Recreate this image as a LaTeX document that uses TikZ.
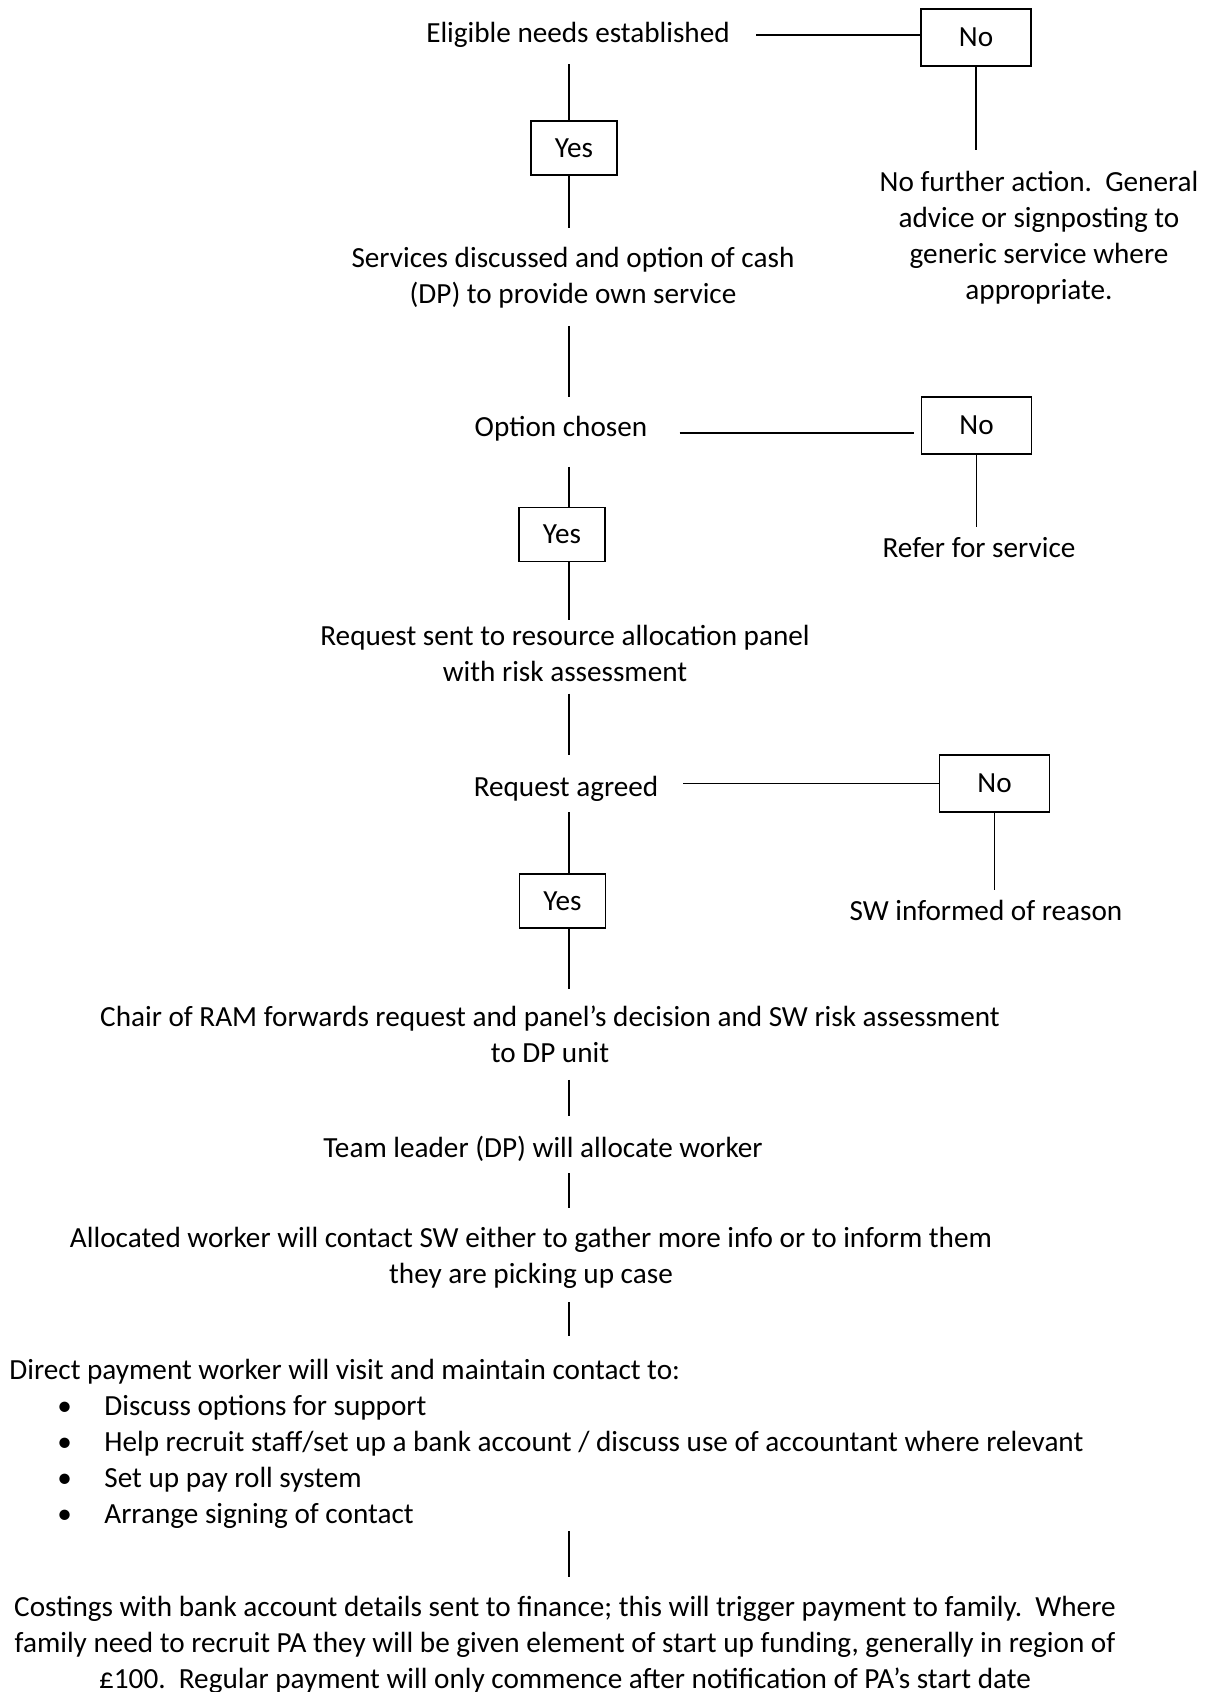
\documentclass[tikz,border=0pt]{standalone}
\usepackage{fontspec}
\setmainfont{Carlito}
\begin{document}
\begin{tikzpicture}[x=0.5pt,y=-0.5pt,
  txt/.style={inner sep=0pt, font=\fontsize{14.6}{18}\selectfont, align=center},
  yesbox/.style={draw, line width=0.8pt, minimum width=43pt, minimum height=27pt, inner sep=0pt, font=\fontsize{14.6}{18}\selectfont},
  nobox/.style={draw, line width=0.8pt, minimum width=55pt, minimum height=28.5pt, inner sep=0pt, font=\fontsize{14.6}{18}\selectfont},
  conn/.style={line width=0.8pt}
]
\useasboundingbox (0,0) rectangle (1212,1692);
\coordinate (spine) at (569,0);

% main column
\node[txt] (elig) at (578,35) {Eligible needs established};
\node[yesbox] (yes1) at (574,148) {Yes};
\node[txt] (serv) at (573,278) {Services discussed and option of cash\\(DP) to provide own service};
\node[txt] (opt) at (561,429) {Option chosen};
\node[yesbox] (yes2) at (562,534.5) {Yes};
\node[txt] (req) at (565,653) {Request sent to resource allocation panel\\with risk assessment};
\node[txt] (agreed) at (566,789) {Request agreed};
\node[yesbox] (yes3) at (562.5,901) {Yes};
\node[txt] (chair) at (550,1034) {Chair of RAM forwards request and panel’s decision and SW risk assessment\\to DP unit};
\node[txt] (team) at (543,1149) {Team leader (DP) will allocate worker};
\node[txt] (alloc) at (531,1258) {Allocated worker will contact SW either to gather more info or to inform them\\they are picking up case};
\node[txt, align=left, anchor=north west] (direct) at (9,1359) {Direct payment worker will visit and maintain contact to:\\
\hspace*{24pt}\makebox[23.5pt][l]{\textbullet}Discuss options for support\\
\hspace*{24pt}\makebox[23.5pt][l]{\textbullet}Help recruit staff/set up a bank account / discuss use of accountant where relevant\\
\hspace*{24pt}\makebox[23.5pt][l]{\textbullet}Set up pay roll system\\
\hspace*{24pt}\makebox[23.5pt][l]{\textbullet}Arrange signing of contact};
\node[txt] (cost) at (565,1645) {Costings with bank account details sent to finance; this will trigger payment to family.\ \ Where\\family need to recruit PA they will be given element of start up funding, generally in region of\\£100.\ \ Regular payment will only commence after notification of PA’s start date};

% right column
\node[nobox] (no1) at (976,37.5) {No};
\node[txt] (nf) at (1039,238) {No further action.\ \ General\\advice or signposting to\\generic service where\\appropriate.};
\node[nobox] (no2) at (976.5,425.5) {No};
\node[txt] (refer) at (979,547.5) {Refer for service};
\node[nobox] (no3) at (994.5,783.5) {No};
\node[txt] (sw) at (986,910) {SW informed of reason};

% spine connectors
\draw[conn, shorten <=8pt] (elig.south -| spine) -- (yes1.north -| spine);
\draw[conn, shorten >=9.5pt] (yes1.south -| spine) -- (serv.north -| spine);
\draw[conn, shorten <=8.5pt, shorten >=9.5pt] (serv.south -| spine) -- (opt.north -| spine);
\draw[conn, shorten <=12.5pt] (opt.south -| spine) -- (yes2.north -| spine);
\draw[conn, shorten >=2pt] (yes2.south -| spine) -- (req.north -| spine);
\draw[conn, shorten <=6pt, shorten >=10.5pt] (req.south -| spine) -- (agreed.north -| spine);
\draw[conn, shorten <=5pt] (agreed.south -| spine) -- (yes3.north -| spine);
\draw[conn, shorten >=8pt] (yes3.south -| spine) -- (chair.north -| spine);
\draw[conn, shorten <=8.5pt, shorten >=10pt] (chair.south -| spine) -- (team.north -| spine);
\draw[conn, shorten <=5.5pt, shorten >=9.5pt] (team.south -| spine) -- (alloc.north -| spine);
\draw[conn, shorten <=6.5pt, shorten >=11.5pt] (alloc.south -| spine) -- (direct.north -| spine);
\draw[conn, shorten <=1pt, shorten >=9.5pt] (direct.south -| spine) -- (cost.north -| spine);

% branch connectors
\draw[conn, shorten <=13pt] (elig.east) -- (elig.east -| no1.west);
\draw[conn, shorten <=16pt, shorten >=3.5pt] ([yshift=-2pt]opt.east) -- ([yshift=-2pt]opt.east -| no2.west);
\draw[conn, shorten >=12pt] (no3.west) -- (no3.west -| agreed.east);
\draw[conn, shorten >=10.5pt] (no1.south) -- (no1.south |- nf.north);
\draw[conn, shorten >=5pt] (no2.south) -- (no2.south |- refer.north);
\draw[conn, shorten >=4.5pt] (no3.south) -- (no3.south |- sw.north);
\end{tikzpicture}
\end{document}
